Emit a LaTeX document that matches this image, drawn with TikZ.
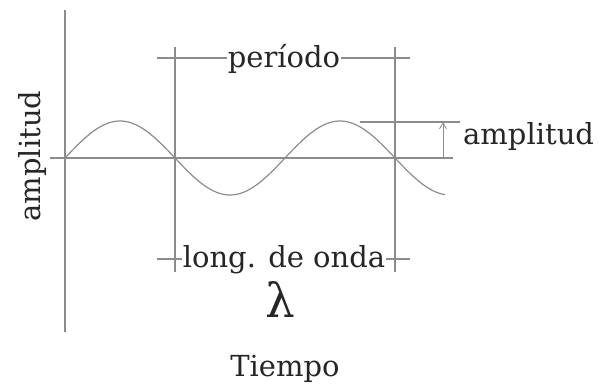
\documentclass[tikz,border=0pt]{standalone}
\usepackage{fontspec}
\setmainfont{DejaVu Serif}
\usetikzlibrary{arrows.meta}

\tikzset{
    guideline/.style={draw=black!45, line width=1.3pt},
    waveline/.style={draw=black!45, line width=1.2pt},
    labeltext/.style={font=\fontsize{29}{34}\selectfont, text=black!85, inner sep=1pt}
}

\begin{document}
\begin{tikzpicture}[x=1pt, y=-1pt]
        \def\midline{158}
        \def\amp{37}
        \def\wavelen{220}
        \useasboundingbox (0,0) rectangle (599,385);

        % Axes
        \coordinate (ytop) at (65,10);
        \coordinate (ybot) at (65,332);
        \coordinate (xleft) at (50,\midline);
        \coordinate (xright) at (453,\midline);
        \draw[guideline] (ytop) -- (ybot);
        \draw[guideline] (xleft) -- (xright);

        % Wave
        \draw[waveline, domain=65:445, samples=120, smooth]
            plot (\x, {\midline - \amp*sin((\x-65)/\wavelen*360)});

        % Period markers
        \coordinate (markAtop) at (175,47);
        \coordinate (markAbot) at (175,272);
        \coordinate (markBtop) at (395,47);
        \coordinate (markBbot) at (395,272);
        \draw[guideline] (markAtop) -- (markAbot);
        \draw[guideline] (markBtop) -- (markBbot);

        % Period label
        \node[labeltext, anchor=base] (periodo) at (284,68) {período};
        \coordinate (perleft) at (157,58);
        \coordinate (perright) at (410,58);
        \draw[guideline] (perleft) -- (periodo.west |- perleft);
        \draw[guideline] (periodo.east |- perright) -- (perright);

        % Wavelength label
        \node[labeltext, anchor=base] (longonda) at (284,267) {long. de onda};
        \coordinate (lonleft) at (157,259);
        \coordinate (lonright) at (410,259);
        \draw[guideline] (lonleft) -- (longonda.west |- lonleft);
        \draw[guideline] (longonda.east |- lonright) -- (lonright);
        \node[font=\fontsize{47}{52}\selectfont, text=black!85, inner sep=0pt, anchor=base] (lambda) at (280,317) {λ};

        % Amplitude marker
        \coordinate (amptop) at (360,122);
        \coordinate (ampend) at (460,122);
        \coordinate (ampbase) at (443,\midline);
        \draw[guideline] (amptop) -- (ampend);
        \draw[waveline, line width=0.8pt, -{Straight Barb[length=6pt, width=7pt]}]
            (ampbase) -- (ampbase |- amptop);
        \node[labeltext, anchor=base west] (amplabel) at (462,144) {amplitud};

        % Axis titles
        \node[labeltext, anchor=base, rotate=90] (ylabel) at (40,156) {amplitud};
        \node[labeltext, anchor=base] (xlabel) at (285,376) {Tiempo};
    \end{tikzpicture}
\end{document}
